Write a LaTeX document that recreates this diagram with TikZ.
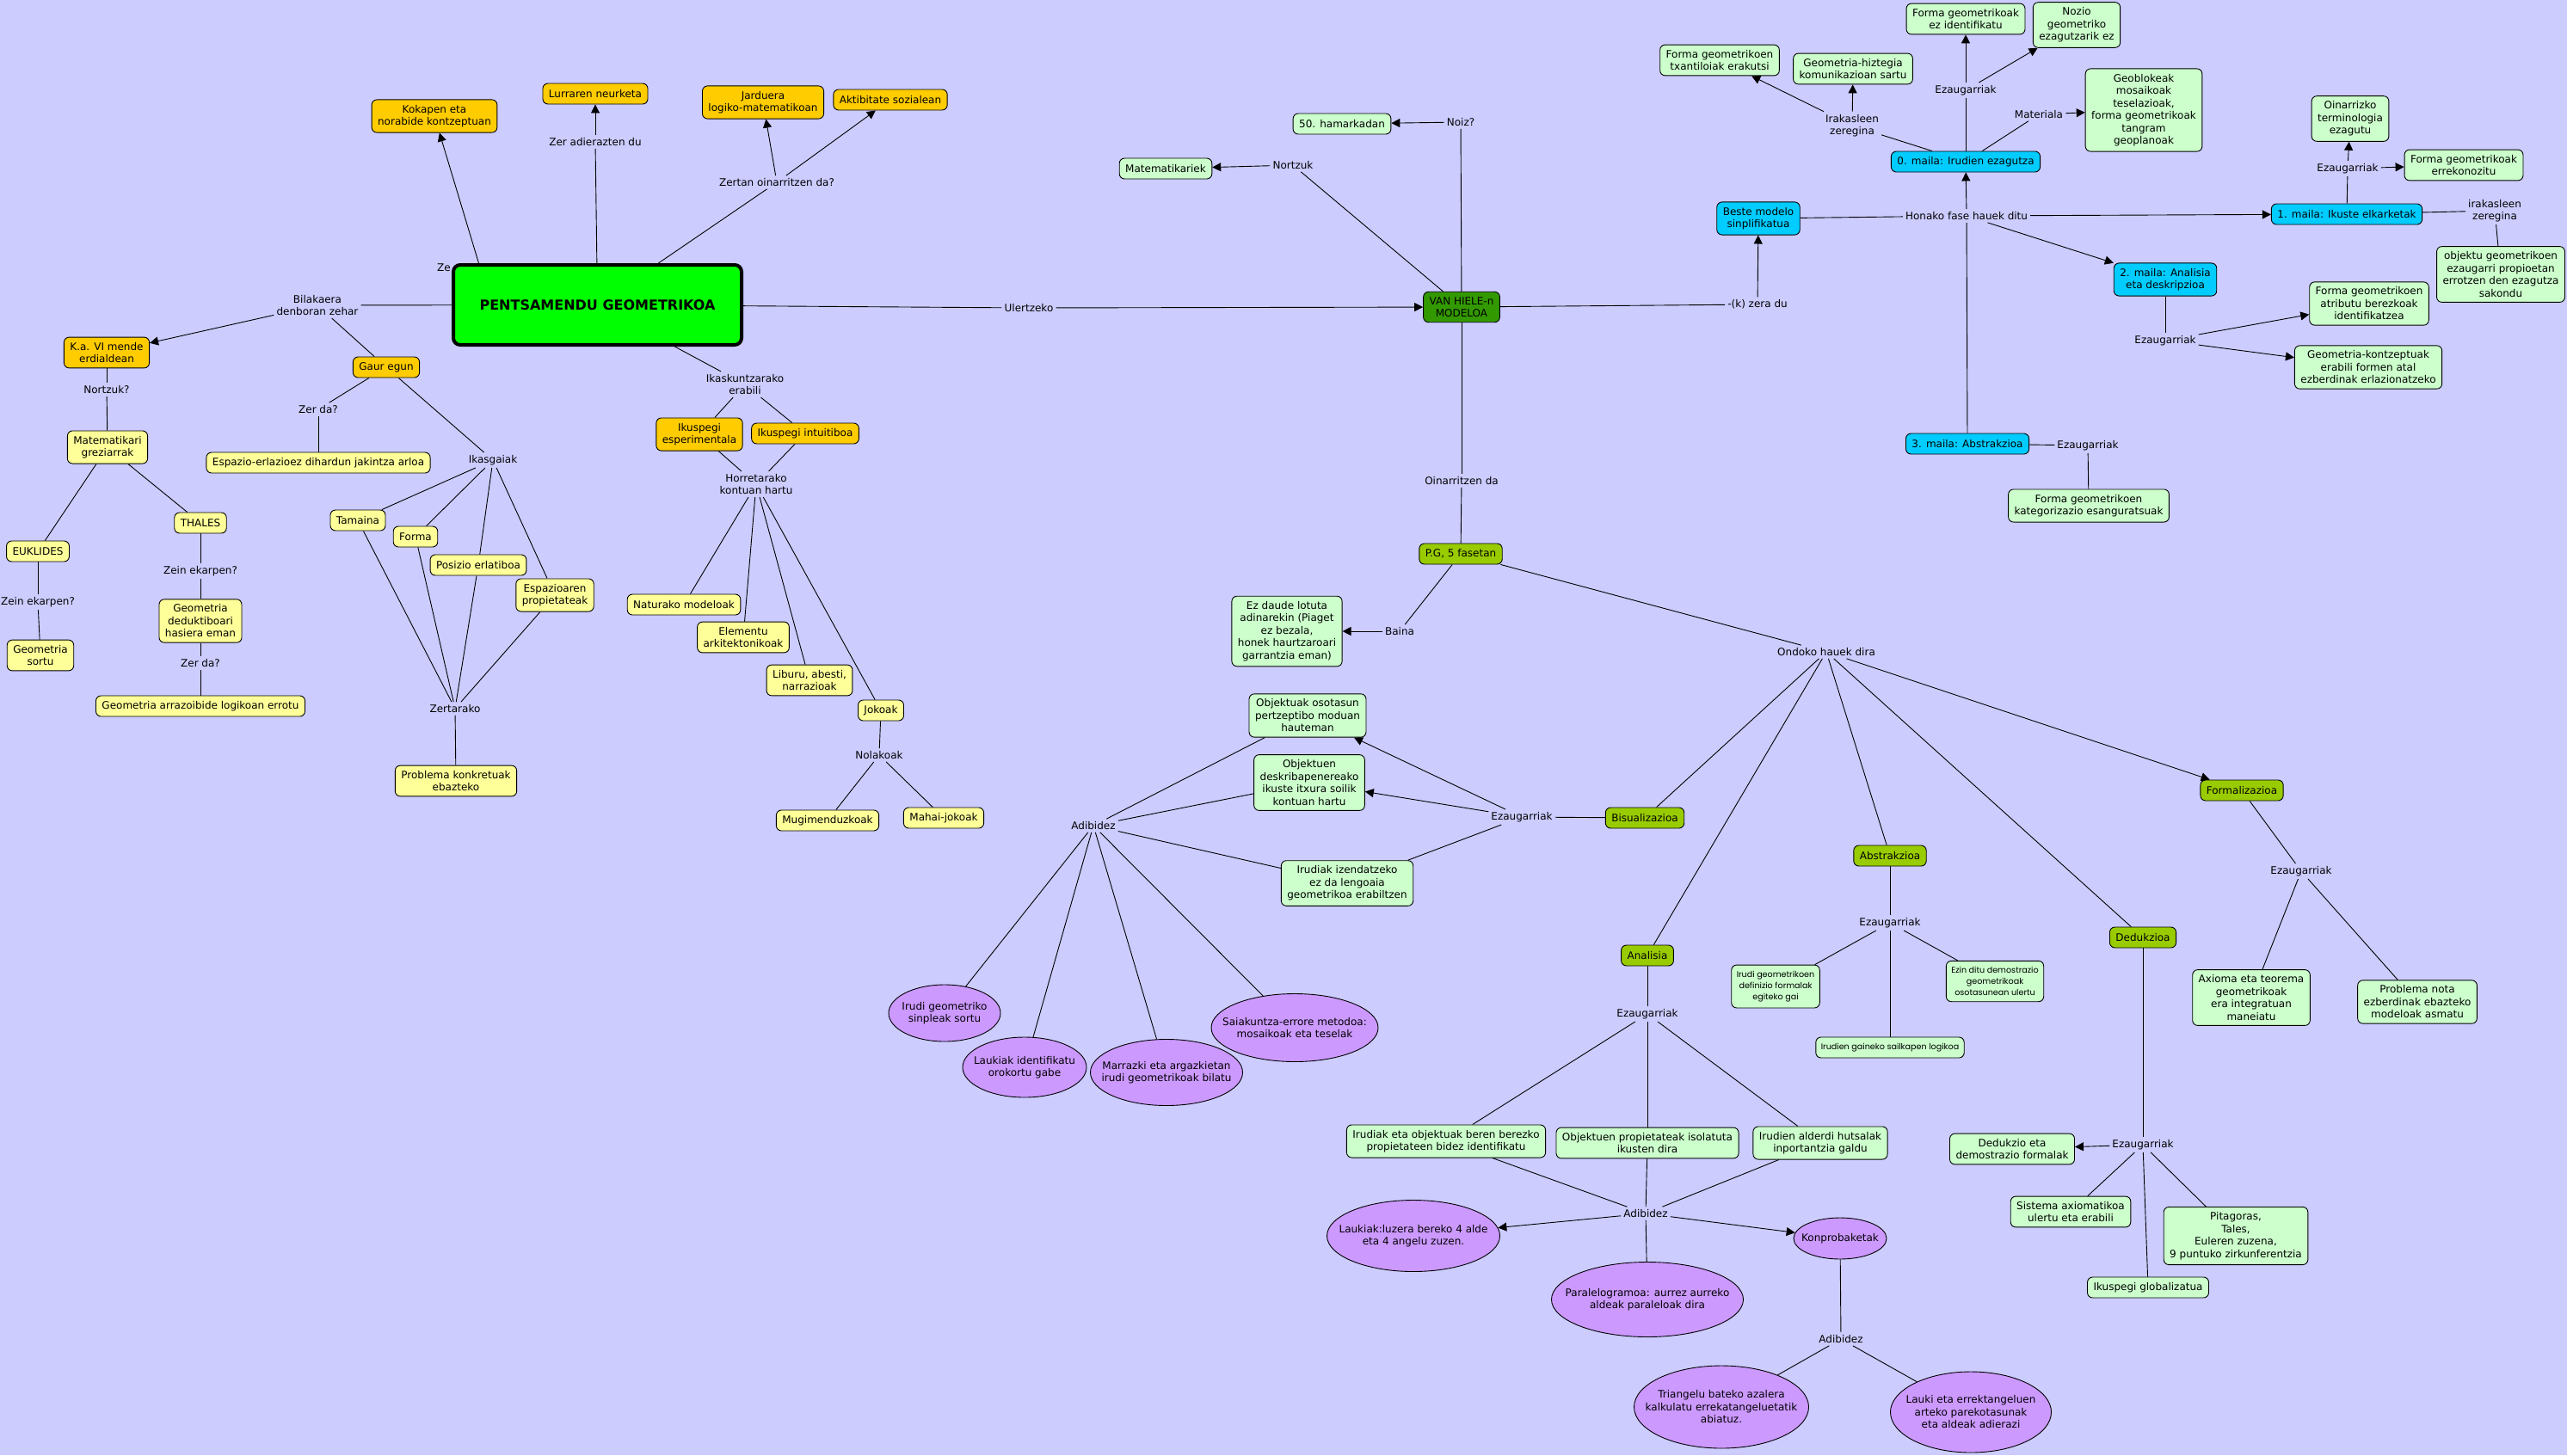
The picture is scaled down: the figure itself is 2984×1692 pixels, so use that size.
\documentclass[tikz,border=0pt]{standalone}
\usepackage{fontspec}
\setmainfont{DejaVu Sans}
\newfontfamily\gothfont{Poppins}
\usetikzlibrary{shapes.geometric,arrows.meta}

\definecolor{bgblue}{HTML}{CCCCFF}
\definecolor{cmorange}{HTML}{FFCC00}
\definecolor{cmyellow}{HTML}{FFFF99}
\definecolor{cmgreen}{HTML}{00FF00}
\definecolor{cmdark}{HTML}{339900}
\definecolor{cmmint}{HTML}{CCFFCC}
\definecolor{cmcyan}{HTML}{00CCFF}
\definecolor{cmlime}{HTML}{99CC00}
\definecolor{cmpurple}{HTML}{CC99FF}

\pgfdeclarelayer{paper}
\pgfdeclarelayer{edges}
\pgfsetlayers{paper,edges,main}

\newcommand{\cmfont}{\fontsize{12}{14.5}\selectfont}

\tikzset{
  concept/.style={draw, line width=0.9pt, rounded corners=6pt, align=center,
    inner xsep=7pt, inner ysep=6pt, minimum height=24pt, font=\cmfont},
  orangebox/.style={concept, fill=cmorange},
  yelbox/.style={concept, fill=cmyellow},
  mintbox/.style={concept, fill=cmmint},
  cyanbox/.style={concept, fill=cmcyan},
  limebox/.style={concept, fill=cmlime},
  tinybox/.style={mintbox, inner xsep=6pt, inner ysep=7pt,
    font=\gothfont\fontsize{9.6}{13}\selectfont},
  mainbox/.style={draw, line width=4pt, rounded corners=8pt, fill=cmgreen,
    minimum width=335pt, minimum height=93pt,
    font=\fontsize{16}{19}\selectfont\bfseries},
  oval/.style 2 args={ellipse, draw, line width=0.9pt, fill=cmpurple,
    align=center, inner sep=-30pt, minimum width=#1pt, minimum height=#2pt,
    font=\cmfont},
  lbl/.style={align=center, inner sep=3pt, font=\cmfont},
  link/.style={line width=0.9pt},
  arr/.style={link, -{Triangle[length=10pt,width=10pt]}}
}

\begin{document}
\begin{tikzpicture}[x=1pt,y=-1pt]
  \useasboundingbox (0,0) rectangle (2984,1692);
  \begin{pgfonlayer}{paper}
    \fill[bgblue] (0,0) rectangle (2984,1692);
  \end{pgfonlayer}

  % main concept
  \node[mainbox] (main) at (694.5,354.5) {PENTSAMENDU GEOMETRIKOA};
  \node[lbl, inner sep=0pt] (zeLbl) at (516,311) {Ze};
  \coordinate (zeSrc) at (558,311);

  % above the main concept
  \node[orangebox] (kokapen) at (505,135) {Kokapen eta\\norabide kontzeptuan};
  \node[orangebox] (lurraren) at (692,109) {Lurraren neurketa};
  \node[orangebox] (jarduera) at (887,119) {Jarduera\\logiko-matematikoan};
  \node[orangebox] (aktibit) at (1035,116) {Aktibitate sozialean};
  \node[lbl] (adiLbl) at (692,165) {Zer adierazten du};
  \node[lbl] (zertanLbl) at (903,212) {Zertan oinarritzen da?};

  % history
  \node[lbl] (bilakLbl) at (369,355) {Bilakaera\\denboran zehar};
  \node[orangebox] (kaVI) at (124,410) {K.a. VI mende\\erdialdean};
  \node[lbl] (nortzukLbl) at (124,453) {Nortzuk?};
  \node[yelbox] (matem) at (125,520) {Matematikari\\greziarrak};
  \node[yelbox] (euklides) at (44,641) {EUKLIDES};
  \node[yelbox] (thales) at (233,608) {THALES};
  \node[lbl] (zeinEuk) at (44,700) {Zein ekarpen?};
  \node[yelbox] (geoSortu) at (47,762) {Geometria\\sortu};
  \node[lbl] (zeinTha) at (233,664) {Zein ekarpen?};
  \node[yelbox] (geoDeduk) at (233,722) {Geometria\\deduktiboari\\hasiera eman};
  \node[lbl] (zerdaTha) at (233,771) {Zer da?};
  \node[yelbox] (geoArraz) at (233,821) {Geometria arrazoibide logikoan errotu};

  % today
  \node[orangebox] (gaur) at (449,427) {Gaur egun};
  \node[lbl] (zerdaGaur) at (370,476) {Zer da?};
  \node[yelbox] (espazio) at (370,538) {Espazio-erlazioez dihardun jakintza arloa};
  \node[lbl] (ikasgLbl) at (573,535) {Ikasgaiak};
  \node[yelbox] (tamaina) at (416,605) {Tamaina};
  \node[yelbox] (forma) at (483,624) {Forma};
  \node[yelbox] (posizio) at (556,657) {Posizio erlatiboa};
  \node[yelbox] (espProp) at (645,692) {Espazioaren\\propietateak};
  \node[lbl] (zertarLbl) at (529,824) {Zertarako};
  \node[yelbox] (problema) at (530,908) {Problema konkretuak\\ebazteko};

  % learning
  \node[lbl] (ikaskLbl) at (866,447) {Ikaskuntzarako\\erabili};
  \node[orangebox] (ikusEsp) at (813,505) {Ikuspegi\\esperimentala};
  \node[orangebox] (ikusInt) at (936,504) {Ikuspegi intuitiboa};
  \node[lbl] (horretLbl) at (879,563) {Horretarako\\kontuan hartu};
  \node[yelbox] (naturako) at (795,703) {Naturako modeloak};
  \node[yelbox] (elementu) at (864,741) {Elementu\\arkitektonikoak};
  \node[yelbox] (liburu) at (941,791) {Liburu, abesti,\\narrazioak};
  \node[yelbox] (jokoak) at (1024,826) {Jokoak};
  \node[lbl] (nolakLbl) at (1022,878) {Nolakoak};
  \node[yelbox] (mugim) at (962,954) {Mugimenduzkoak};
  \node[yelbox] (mahai) at (1097,951) {Mahai-jokoak};

  % van Hiele model
  \node[lbl] (ulertLbl) at (1196,358) {Ulertzeko};
  \node[concept, fill=cmdark] (vanH) at (1699,357) {VAN HIELE-n\\MODELOA};
  \node[lbl] (nortzuk2) at (1503,192) {Nortzuk};
  \node[mintbox] (matematikariek) at (1355,196) {Matematikariek};
  \node[lbl] (noizLbl) at (1698,142) {Noiz?};
  \node[mintbox] (hamarkada) at (1560,144) {50. hamarkadan};
  \node[lbl] (zeraLbl) at (2043,354) {-(k) zera du};
  \node[cyanbox] (beste) at (2044,254) {Beste modelo\\sinplifikatua};
  \node[lbl] (honakLbl) at (2286,251) {Honako fase hauek ditu};

  % level 0
  \node[cyanbox] (maila0) at (2285,188) {0. maila: Irudien ezagutza};
  \node[lbl] (irakLbl) at (2153,146) {Irakasleen\\zeregina};
  \node[mintbox] (txantil) at (1999,70) {Forma geometrikoen\\txantiloiak erakutsi};
  \node[mintbox] (hiztegi) at (2154,80) {Geometria-hiztegia\\komunikazioan sartu};
  \node[lbl] (ezau0) at (2285,105) {Ezaugarriak};
  \node[mintbox] (ezIdent) at (2285,22) {Forma geometrikoak\\ez identifikatu};
  \node[mintbox] (nozio) at (2414,29) {Nozio\\geometriko\\ezagutzarik ez};
  \node[lbl] (materLbl) at (2370,133) {Materiala};
  \node[mintbox] (geoblok) at (2492,128) {Geoblokeak\\mosaikoak\\teselazioak,\\forma geometrikoak\\tangram\\geoplanoak};

  % level 1
  \node[cyanbox] (maila1) at (2728,249) {1. maila: Ikuste elkarketak};
  \node[lbl] (ezau1) at (2729,196) {Ezaugarriak};
  \node[mintbox] (oinarriz) at (2732,138) {Oinarrizko\\terminologia\\ezagutu};
  \node[mintbox] (errekon) at (2864,192) {Forma geometrikoak\\errekonozitu};
  \node[lbl] (irak1) at (2900,245) {irakasleen\\zeregina};
  \node[mintbox] (objektu) at (2907,319) {objektu geometrikoen\\ezaugarri propioetan\\errotzen den ezagutza\\sakondu};

  % level 2
  \node[cyanbox] (maila2) at (2517,325) {2. maila: Analisia\\eta deskripzioa};
  \node[lbl] (ezau2) at (2517,396) {Ezaugarriak};
  \node[mintbox] (atributu) at (2754,353) {Forma geometrikoen\\atributu berezkoak\\identifikatzea};
  \node[mintbox] (kontzept) at (2753,427) {Geometria-kontzeptuak\\erabili formen atal\\ezberdinak erlazionatzeko};

  % level 3
  \node[cyanbox] (maila3) at (2287,516) {3. maila: Abstrakzioa};
  \node[lbl] (ezau3) at (2427,518) {Ezaugarriak};
  \node[mintbox] (kategor) at (2428,588) {Forma geometrikoen\\kategorizazio esanguratsuak};

  % five phases
  \node[lbl] (oinarLbl) at (1699,559) {Oinarritzen da};
  \node[limebox] (pg) at (1698,644) {P.G, 5 fasetan};
  \node[lbl] (bainaLbl) at (1627,734) {Baina};
  \node[mintbox] (ezDaude) at (1496,734) {Ez daude lotuta\\adinarekin (Piaget\\ez bezala,\\honek haurtzaroari\\garrantzia eman)};
  \node[lbl] (ondokLbl) at (2123,758) {Ondoko hauek dira};
  \node[limebox] (bisual) at (1912,951) {Bisualizazioa};
  \node[limebox] (abstrak) at (2197,995) {Abstrakzioa};
  \node[limebox] (analisia) at (1915,1111) {Analisia};
  \node[limebox] (dedukz) at (2491,1090) {Dedukzioa};
  \node[limebox] (formaliz) at (2606,919) {Formalizazioa};

  % visualisation
  \node[lbl] (ezauBis) at (1769,950) {Ezaugarriak};
  \node[mintbox] (osotasun) at (1520,832) {Objektuak osotasun\\pertzeptibo moduan\\hauteman};
  \node[mintbox] (deskrib) at (1522,910) {Objektuen\\deskribapenereako\\ikuste itxura soilik\\kontuan hartu};
  \node[mintbox] (izendatz) at (1566,1027) {Irudiak izendatzeko\\ez da lengoaia\\geometrikoa erabiltzen};
  \node[lbl] (adiBis) at (1271,960) {Adibidez};
  \node[oval={130}{66}] (irudiSinp) at (1098,1178) {Irudi geometriko\\sinpleak sortu};
  \node[oval={144}{70}] (laukiakId) at (1191,1241) {Laukiak identifikatu\\orokortu gabe};
  \node[oval={177}{77}] (marrazki) at (1356,1247) {Marrazki eta argazkietan\\irudi geometrikoak bilatu};
  \node[oval={194}{79}] (saiakunt) at (1505,1195) {Saiakuntza-errore metodoa:\\mosaikoak eta teselak};

  % abstraction
  \node[lbl] (ezauAbs) at (2197,1073) {Ezaugarriak};
  \node[tinybox] (irudiDef) at (2064,1147) {Irudi geometrikoen\\definizio formalak\\egiteko gai};
  \node[tinybox, inner ysep=6pt] (sailkapen) at (2197,1218) {Irudien gaineko sailkapen logikoa};
  \node[tinybox] (ezinDitu) at (2319,1141) {Ezin ditu demostrazio\\geometrikoak\\osotasunean ulertu};

  % analysis
  \node[lbl] (ezauAna) at (1915,1179) {Ezaugarriak};
  \node[mintbox] (irudiakEta) at (1681,1327) {Irudiak eta objektuak beren berezko\\propietateen bidez identifikatu};
  \node[mintbox] (objProp) at (1915,1329) {Objektuen propietateak isolatuta\\ikusten dira};
  \node[mintbox] (alderdi) at (2116,1329) {Irudien alderdi hutsalak\\inportantzia galdu};
  \node[lbl] (adiAna) at (1913,1411) {Adibidez};
  \node[oval={201}{83}] (laukiakLuz) at (1643,1437) {Laukiak:luzera bereko 4 alde\\eta 4 angelu zuzen.};
  \node[oval={223}{87}] (parale) at (1915,1511) {Paralelogramoa: aurrez aurreko\\aldeak paraleloak dira};
  \node[oval={108}{48}] (konprob) at (2139,1440) {Konprobaketak};
  \node[lbl] (adiKon) at (2140,1557) {Adibidez};
  \node[oval={203}{96}] (triangelu) at (2001,1636) {Triangelu bateko azalera\\kalkulatu errekatangeluetatik\\abiatuz.};
  \node[oval={187}{94}] (laukiEta) at (2291,1642) {Lauki eta errektangeluen\\arteko parekotasunak\\eta aldeak adierazi};

  % formalisation and deduction
  \node[lbl] (ezauFor) at (2675,1013) {Ezaugarriak};
  \node[mintbox] (axioma) at (2617,1160) {Axioma eta teorema\\geometrikoak\\era integratuan\\maneiatu};
  \node[mintbox] (probNota) at (2810,1165) {Problema nota\\ezberdinak ebazteko\\modeloak asmatu};
  \node[lbl] (ezauDed) at (2491,1331) {Ezaugarriak};
  \node[mintbox] (dedDem) at (2339,1336) {Dedukzio eta\\demostrazio formalak};
  \node[mintbox] (sistema) at (2407,1409) {Sistema axiomatikoa\\ulertu eta erabili};
  \node[mintbox] (pitagoras) at (2599,1437) {Pitagoras,\\Tales,\\Euleren zuzena,\\9 puntuko zirkunferentzia};
  \node[mintbox] (globaliz) at (2497,1497) {Ikuspegi globalizatua};

  \begin{pgfonlayer}{edges}
    % around the main concept
    \draw[arr] (zeSrc) -- (kokapen);
    \draw[link] (main) -- (adiLbl);
    \draw[arr] (adiLbl) -- (lurraren);
    \draw[link] (main) -- (zertanLbl);
    \draw[arr] (zertanLbl) -- (jarduera);
    \draw[arr] (zertanLbl) -- (aktibit);
    \draw[link] (main) -- (bilakLbl);
    \draw[arr] (bilakLbl) -- (kaVI);
    \draw[link] (bilakLbl) -- (gaur);
    % history
    \draw[link] (kaVI) -- (nortzukLbl);
    \draw[link] (nortzukLbl) -- (matem);
    \draw[link] (matem) -- (euklides);
    \draw[link] (matem) -- (thales);
    \draw[link] (euklides) -- (zeinEuk);
    \draw[link] (zeinEuk) -- (geoSortu);
    \draw[link] (thales) -- (zeinTha);
    \draw[link] (zeinTha) -- (geoDeduk);
    \draw[link] (geoDeduk) -- (zerdaTha);
    \draw[link] (zerdaTha) -- (geoArraz);
    % today
    \draw[link] (gaur) -- (zerdaGaur);
    \draw[link] (zerdaGaur) -- (espazio);
    \draw[link] (gaur) -- (ikasgLbl);
    \foreach \n in {tamaina,forma,posizio,espProp} {
      \draw[link] (ikasgLbl) -- (\n);
      \draw[link] (\n) -- (zertarLbl);
    }
    \draw[link] (zertarLbl) -- (problema);
    % learning
    \draw[link] (main) -- (ikaskLbl);
    \draw[link] (ikaskLbl) -- (ikusEsp);
    \draw[link] (ikaskLbl) -- (ikusInt);
    \draw[link] (ikusEsp) -- (horretLbl);
    \draw[link] (ikusInt) -- (horretLbl);
    \foreach \n in {naturako,elementu,liburu,jokoak}
      \draw[link] (horretLbl) -- (\n);
    \draw[link] (jokoak) -- (nolakLbl);
    \draw[link] (nolakLbl) -- (mugim);
    \draw[link] (nolakLbl) -- (mahai);
    % van Hiele model
    \draw[link] (main) -- (ulertLbl);
    \draw[arr] (ulertLbl) -- (vanH);
    \draw[link] (vanH) -- (nortzuk2);
    \draw[arr] (nortzuk2) -- (matematikariek);
    \draw[link] (vanH) -- (noizLbl);
    \draw[arr] (noizLbl) -- (hamarkada);
    \draw[link] (vanH) -- (zeraLbl);
    \draw[arr] (zeraLbl) -- (beste);
    \draw[link] (beste) -- (honakLbl);
    \draw[arr] (honakLbl) -- (maila0);
    \draw[arr] (honakLbl) -- (maila1);
    \draw[arr] (honakLbl) -- (maila2);
    \draw[link] (honakLbl) -- (maila3);
    % levels
    \draw[link] (maila0) -- (irakLbl);
    \draw[arr] (irakLbl) -- (txantil);
    \draw[arr] (irakLbl) -- (hiztegi);
    \draw[link] (maila0) -- (ezau0);
    \draw[arr] (ezau0) -- (ezIdent);
    \draw[arr] (ezau0) -- (nozio);
    \draw[link] (maila0) -- (materLbl);
    \draw[arr] (materLbl) -- (geoblok);
    \draw[link] (maila1) -- (ezau1);
    \draw[arr] (ezau1) -- (oinarriz);
    \draw[arr] (ezau1) -- (errekon);
    \draw[link] (maila1) -- (irak1);
    \draw[link] (irak1) -- (objektu);
    \draw[link] (maila2) -- (ezau2);
    \draw[arr] (ezau2) -- (atributu);
    \draw[arr] (ezau2) -- (kontzept);
    \draw[link] (maila3) -- (ezau3);
    \draw[link] (ezau3) -- (kategor);
    % five phases
    \draw[link] (vanH) -- (oinarLbl);
    \draw[link] (oinarLbl) -- (pg);
    \draw[link] (pg) -- (bainaLbl);
    \draw[arr] (bainaLbl) -- (ezDaude);
    \draw[link] (pg) -- (ondokLbl);
    \foreach \n in {bisual,analisia,abstrak,dedukz}
      \draw[link] (ondokLbl) -- (\n);
    \draw[arr] (ondokLbl) -- (formaliz);
    % visualisation
    \draw[link] (bisual) -- (ezauBis);
    \draw[arr] (ezauBis) -- (osotasun);
    \draw[arr] (ezauBis) -- (deskrib);
    \draw[link] (ezauBis) -- (izendatz);
    \foreach \n in {osotasun,deskrib,izendatz}
      \draw[link] (\n) -- (adiBis);
    \foreach \n in {irudiSinp,laukiakId,marrazki,saiakunt}
      \draw[link] (adiBis) -- (\n);
    % abstraction
    \draw[link] (abstrak) -- (ezauAbs);
    \foreach \n in {irudiDef,sailkapen,ezinDitu}
      \draw[link] (ezauAbs) -- (\n);
    % analysis
    \draw[link] (analisia) -- (ezauAna);
    \foreach \n in {irudiakEta,objProp,alderdi} {
      \draw[link] (ezauAna) -- (\n);
      \draw[link] (\n) -- (adiAna);
    }
    \draw[arr] (adiAna) -- (laukiakLuz);
    \draw[link] (adiAna) -- (parale);
    \draw[arr] (adiAna) -- (konprob);
    \draw[link] (konprob) -- (adiKon);
    \draw[link] (adiKon) -- (triangelu);
    \draw[link] (adiKon) -- (laukiEta);
    % formalisation and deduction
    \draw[link] (formaliz) -- (ezauFor);
    \draw[link] (ezauFor) -- (axioma);
    \draw[link] (ezauFor) -- (probNota);
    \draw[link] (dedukz) -- (ezauDed);
    \draw[arr] (ezauDed) -- (dedDem);
    \draw[link] (ezauDed) -- (sistema);
    \draw[link] (ezauDed) -- (pitagoras);
    \draw[link] (ezauDed) -- (globaliz);
  \end{pgfonlayer}
\end{tikzpicture}
\end{document}
